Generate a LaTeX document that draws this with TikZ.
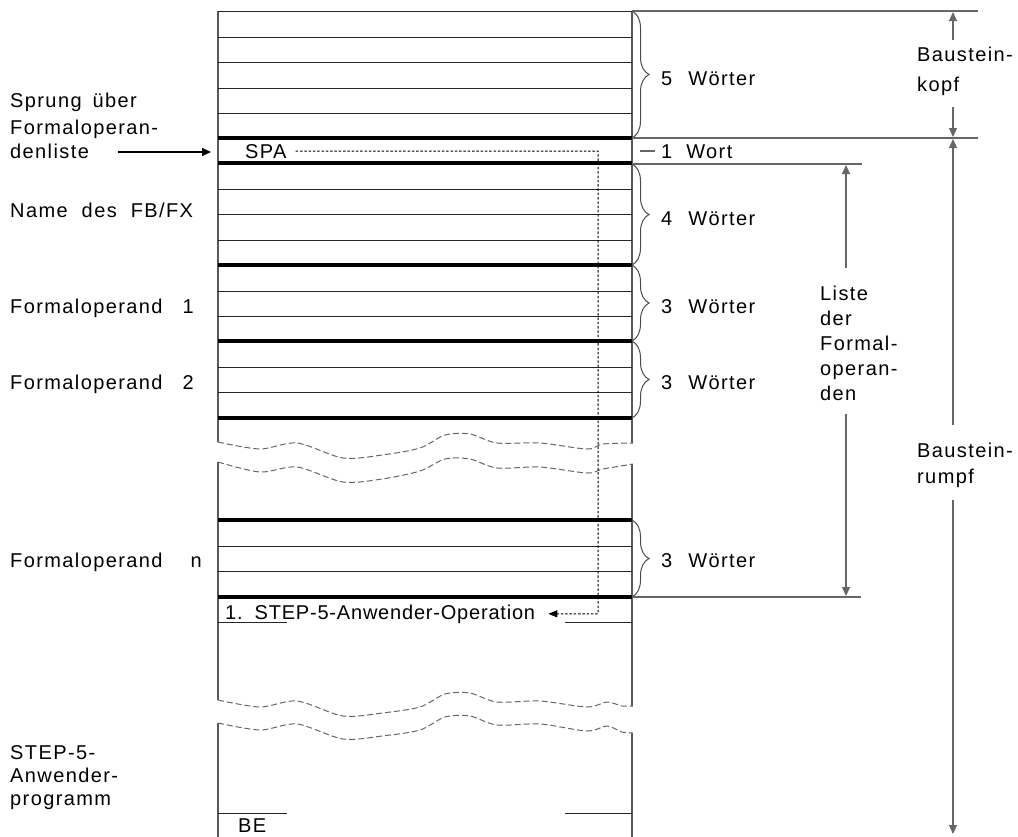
\documentclass[tikz,border=0pt]{standalone}
\usepackage{fontspec}
\setmainfont{Liberation Sans}[LetterSpace=7]
\usetikzlibrary{arrows.meta,decorations.pathreplacing}
\newcommand\wsp[1]{\hspace{#1pt}}
\begin{document}
\begin{tikzpicture}[x=1pt,y=-1pt,
  lbl/.style={anchor=base west,inner sep=0pt,font=\fontsize{20}{24}\selectfont},
  rowthin/.style={line width=1pt,draw=black!85},
  rowthick/.style={line width=4.5pt,draw=black},
  side/.style={line width=1.3pt,draw=black!65},
  ann/.style={line width=1.2pt,draw=black!60},
  arr/.style={ann,-{Triangle[length=9pt,width=8pt]}},
  wave/.style={line width=1pt,draw=black!60,dash pattern=on 6pt off 3pt},
  dotl/.style={line width=1pt,draw=black,dash pattern=on 2.5pt off 1.8pt},
  brc/.style={decorate,decoration={brace,amplitude=17pt},line width=1pt,draw=black!70},
]
\useasboundingbox (0,0) rectangle (1018,836);

% ---- box sides
\draw[side] (218,11) -- (218,442) (218,462) -- (218,700) (218,723) -- (218,840);
\draw[side] (632,11) -- (632,443) (632,464) -- (632,706) (632,733) -- (632,840);

% ---- rows
\draw[rowthin] (218,11) -- (632,11);
\foreach \y in {37,62,88,113,189,214,240,291,316,367,392,546,571}
  \draw[rowthin] (218,\y) -- (632,\y);
\foreach \y in {138,163,265,341,418,520,597}
  \draw[rowthick] (218,\y) -- (632,\y);
\draw[rowthin] (218,622) -- (287,622) (565,622) -- (632,622);
\draw[rowthin] (218,813) -- (287,813) (565,813) -- (632,813);

% ---- break lines
\draw[wave] plot[smooth,tension=0.5] coordinates {(218,442) (260,449) (297,443) (343,458) (382,455) (420,448) (445,435) (470,434) (497,443) (540,443) (587,449) (603,444) (633,443)};
\draw[wave] plot[smooth,tension=0.5] coordinates {(218,462) (260,472) (297,467) (343,482) (382,479) (420,471) (445,459) (470,459) (497,468) (540,467) (587,473) (603,469) (633,464)};
\draw[wave] plot[smooth,tension=0.5] coordinates {(218,700) (260,707) (297,701) (343,716) (382,713) (420,707) (445,694) (470,693) (497,702) (540,701) (587,707) (607,702) (622,706) (633,706)};
\draw[wave] plot[smooth,tension=0.5] coordinates {(218,723) (260,730) (297,724) (343,739) (382,736) (420,730) (445,717) (470,716) (497,725) (540,724) (587,731) (607,726) (622,732) (633,733)};

% ---- texts inside box
\node[lbl] (spa) at (245,158) {SPA};
\node[lbl] (op) at (225,619) {\addfontfeatures{LetterSpace=4}1.\wsp{12}STEP-5-Anwender-Operation};
\node[lbl] (be) at (238,832) {BE};

% ---- jump connector
\coordinate (jx) at (598,151);
\draw[dotl,-{Triangle[length=9pt,width=7pt]}] ([xshift=9pt]spa.east) -- (jx) -- (jx |- op.east) -- ([xshift=13pt]op.east);

% ---- braces
\draw[brc] (632,11) -- (632,138);
\draw[brc] (632,164) -- (632,265);
\draw[brc] (632,265) -- (632,341);
\draw[brc] (632,341) -- (632,418);
\draw[brc] (632,520) -- (632,597);
\node[lbl] (w5) at (661,85) {5\wsp{16}Wörter};
\draw[ann] (640,151) -- (655,151);
\node[lbl] (w1) at (661,158) {1\wsp{14}Wort};
\node[lbl] (w4) at (661,225) {4\wsp{16}Wörter};
\node[lbl] (w3a) at (661,313) {3\wsp{16}Wörter};
\node[lbl] (w3b) at (661,389) {3\wsp{16}Wörter};
\node[lbl] (w3c) at (661,567) {3\wsp{16}Wörter};

% ---- right annotation lines
\draw[ann] (632,11) -- (978,11);
\draw[ann] (632,138) -- (978,138);
\draw[ann] (632,164) -- (862,164);
\draw[ann] (632,597) -- (861,597);

\node[lbl] (bk1) at (917,61) {Baustein-};
\node[lbl] (bk2) at (917,91) {kopf};
\draw[arr] (953,40) -- (953,12);
\draw[arr] (953,107) -- (953,137);

\node[lbl] (lf1) at (820,300) {Liste};
\node[lbl] (lf2) at (820,325) {der};
\node[lbl] (lf3) at (820,350) {Formal-};
\node[lbl] (lf4) at (820,375) {operan-};
\node[lbl] (lf5) at (820,400) {den};
\draw[arr] (846,268) -- (846,165);
\draw[arr] (846,414) -- (846,596);

\node[lbl] (br1) at (917,457) {Baustein-};
\node[lbl] (br2) at (917,483) {rumpf};
\draw[arr] (953,425) -- (953,139);
\draw[arr] (953,500) -- (953,834);

% ---- left labels
\node[lbl] (sp1) at (10,107) {Sprung\wsp{11}über};
\node[lbl] (sp2) at (10,134) {Formaloperan-};
\node[lbl] (sp3) at (10,158) {denliste};
\coordinate (sparr) at (118,152);
\draw[ann,draw=black,-{Triangle[length=9pt,width=8pt]}] (sparr) -- (211,152);
\node[lbl] (nm) at (10,217) {Name\wsp{14}des\wsp{14}FB/FX};
\node[lbl] (fo1) at (10,313) {Formaloperand\wsp{20}1};
\node[lbl] (fo2) at (10,389) {Formaloperand\wsp{20}2};
\node[lbl] (fon) at (10,567) {Formaloperand\wsp{28}n};
\node[lbl] (sa1) at (10,759) {STEP-5-};
\node[lbl] (sa2) at (10,782) {Anwender-};
\node[lbl] (sa3) at (10,805) {programm};
\end{tikzpicture}
\end{document}
